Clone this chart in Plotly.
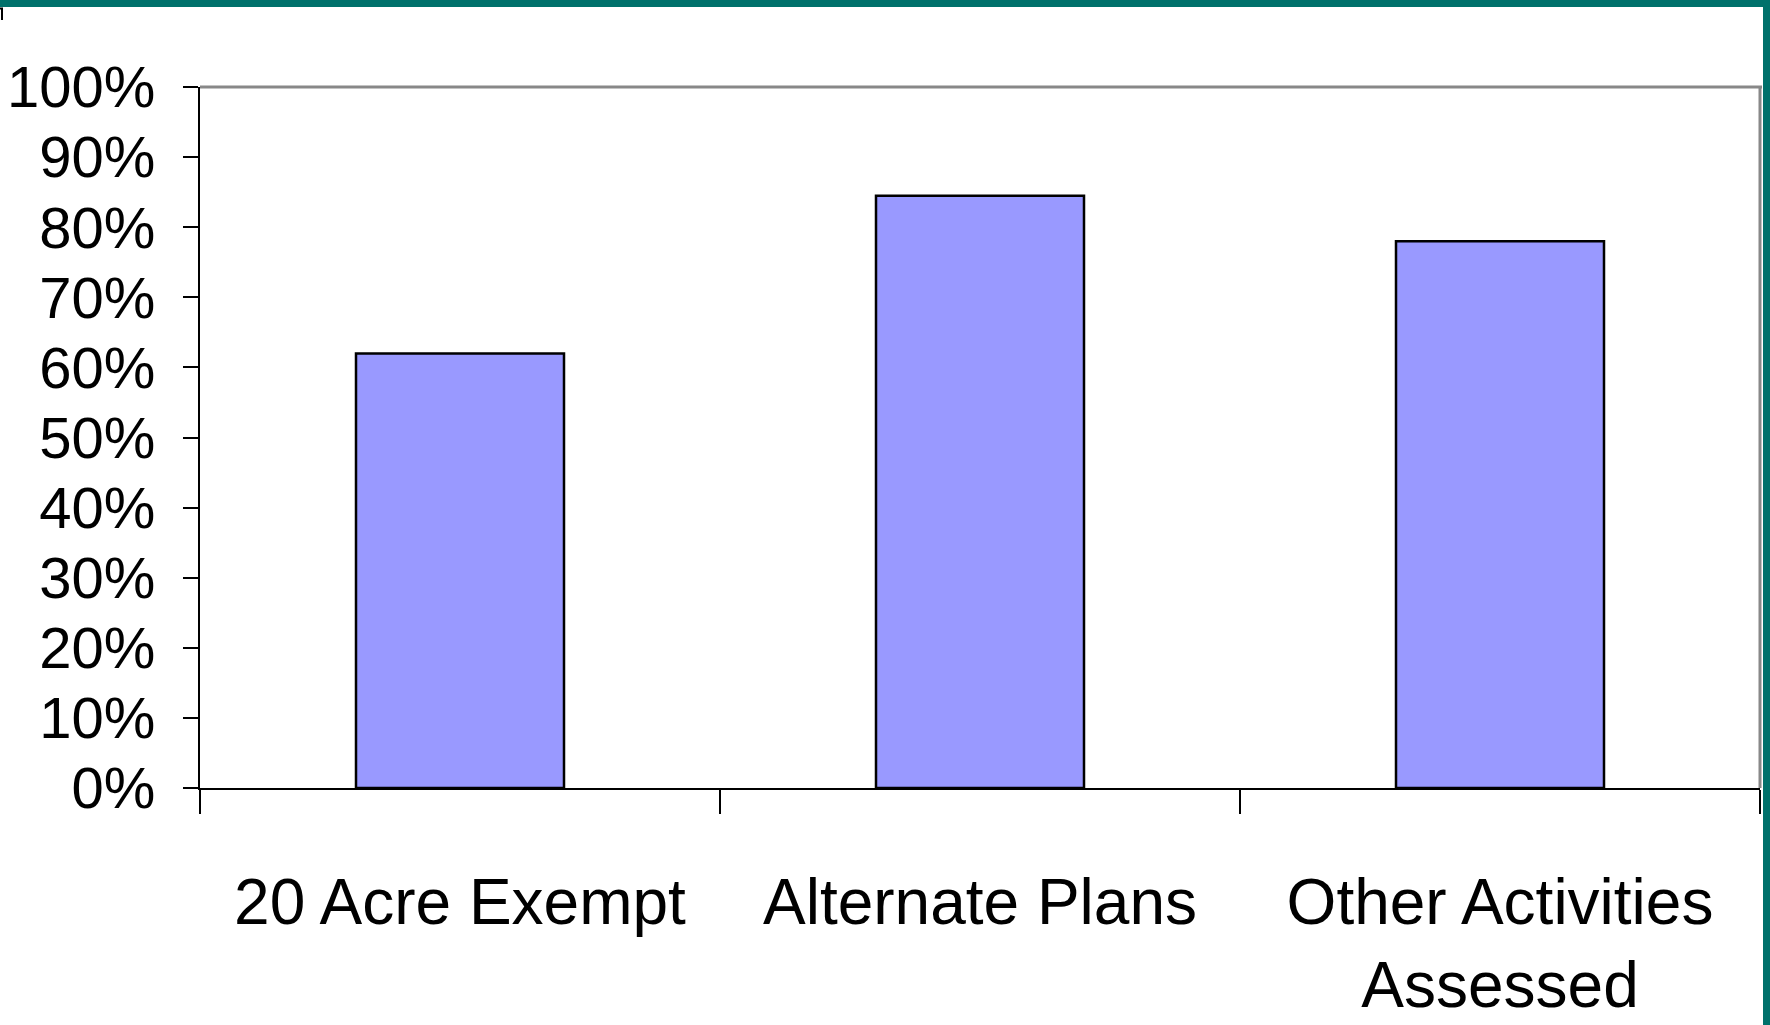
import plotly.graph_objects as go

categories = ["20 Acre Exempt", "Alternate Plans", "Other Activities<br>Assessed"]
values = [62, 84.5, 78]
y_ticks = [0, 10, 20, 30, 40, 50, 60, 70, 80, 90, 100]
y_tick_labels = [f"{v}%" for v in y_ticks]

W, H = 1770, 1025
L, R, T, B = 200, 10, 87, 237
pw = W - L - R
ph = H - T - B

def px_x(x):
    return (x - L) / pw

def px_y(y):
    return 1 - (y - T) / ph

FONT = "Liberation Sans Narrow, Arial Narrow, Liberation Sans, Arial, sans-serif"
TEAL = "#00716B"

fig = go.Figure(go.Bar(
    x=categories, y=values, width=0.4,
    marker=dict(color="#9999FF", line=dict(color="black", width=2.5)),
    hoverinfo="skip",
))

shapes = [
    # gray top & right frame
    dict(type="line", xref="paper", yref="paper", x0=0, x1=px_x(1762), y0=1, y1=1,
         line=dict(color="#888888", width=3), layer="above"),
    dict(type="line", xref="paper", yref="paper", x0=1, x1=1, y0=0, y1=1,
         line=dict(color="#888888", width=3), layer="below"),
    # teal border top and right
    dict(type="rect", xref="paper", yref="paper", x0=px_x(-5), x1=px_x(W + 5), y0=px_y(7), y1=px_y(-5),
         fillcolor=TEAL, line=dict(width=0), layer="above"),
    dict(type="rect", xref="paper", yref="paper", x0=px_x(1763), x1=px_x(W + 5), y0=px_y(H + 5), y1=px_y(-5),
         fillcolor=TEAL, line=dict(width=0), layer="above"),
    # small artifact top-left
    dict(type="path", xref="paper", yref="paper",
         path=f"M {px_x(0)},{px_y(8.5)} L {px_x(2)},{px_y(8.5)} L {px_x(2)},{px_y(20)}",
         line=dict(color="black", width=2), layer="above"),
]

fig.update_layout(
    width=W, height=H,
    margin=dict(l=L, r=R, t=T, b=B, pad=0, autoexpand=False),
    paper_bgcolor="white", plot_bgcolor="white",
    showlegend=False,
    bargap=0.6,
    font=dict(family=FONT, color="black"),
    shapes=shapes,
    xaxis=dict(
        type="category", automargin=False,
        showgrid=False, zeroline=False,
        showline=True, linecolor="black", linewidth=2,
        ticks="outside", tickson="boundaries", ticklen=24, tickwidth=2, tickcolor="black",
        tickfont=dict(size=64, family=FONT, color="black"),
        tickangle=0,
        ticklabelstandoff=57,
        range=[-0.5, 2.5],
    ),
    yaxis=dict(
        range=[0, 100], automargin=False,
        tickvals=y_ticks, ticktext=y_tick_labels,
        showgrid=False, zeroline=False,
        showline=True, linecolor="black", linewidth=2,
        ticks="outside", ticklen=15, tickwidth=2, tickcolor="black",
        tickfont=dict(size=58, family=FONT, color="black"),
        ticklabelstandoff=16,
    ),
)

fig.write_html(
    "out.html",
    config={"displayModeBar": False, "staticPlot": True},
    post_script="document.body.style.margin='0';document.body.style.padding='0';document.documentElement.style.overflow='hidden';",
)
